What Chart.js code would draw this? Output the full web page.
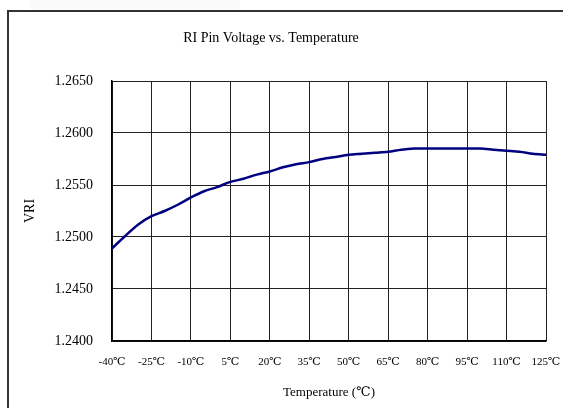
<!DOCTYPE html>
<html>
<head>
<meta charset="utf-8">
<script src="https://cdn.jsdelivr.net/npm/chart.js@4/dist/chart.umd.min.js"></script>
<style>
    html, body { margin: 0; padding: 0; background: #fff; }
    #wrap { width: 563px; height: 408px; position: relative; }
</style>
</head>
<body>
<div id="wrap"><canvas id="vriChart"></canvas></div>
<script>
// Temperature points (℃) and measured VRI (V)
const temps = [-40, -35, -30, -25, -20, -15, -10, -5, 0, 5, 10, 15, 20, 25, 30, 35, 40,
               45, 50, 55, 60, 65, 70, 75, 80, 85, 90, 95, 100, 105, 110, 115, 120, 125];
const vri = [1.2489, 1.2501, 1.2512, 1.2520, 1.2525, 1.2531, 1.2538, 1.2544, 1.2548, 1.2553,
             1.2556, 1.2560, 1.2563, 1.2567, 1.2570, 1.2572, 1.2575, 1.2577, 1.2579, 1.2580,
             1.2581, 1.2582, 1.2584, 1.2585, 1.2585, 1.2585, 1.2585, 1.2585, 1.2585, 1.2584,
             1.2583, 1.2582, 1.2580, 1.2579];
const xTicks = [-40, -25, -10, 5, 20, 35, 50, 65, 80, 95, 110, 125];
const yTicks = [1.2400, 1.2450, 1.2500, 1.2550, 1.2600, 1.2650];

const serif = '"Liberation Serif", "DejaVu Serif", serif';

// Outer frame and title drawn around the chart
const framePlugin = {
    id: 'frame',
    beforeDraw(chart) {
        const ctx = chart.ctx;
        ctx.save();
        ctx.fillStyle = '#fafafa';
        ctx.fillRect(30, 0, 210, 9);
        ctx.strokeStyle = '#333';
        ctx.lineWidth = 2;
        ctx.beginPath();
        ctx.moveTo(8, 420);
        ctx.lineTo(8, 11);
        ctx.lineTo(570, 11);
        ctx.stroke();
        ctx.fillStyle = '#000';
        ctx.font = '14px ' + serif;
        ctx.textAlign = 'center';
        ctx.textBaseline = 'middle';
        ctx.fillText('RI Pin Voltage vs. Temperature', 271, 38);
        ctx.restore();
    }
};

const ctx = document.getElementById('vriChart').getContext('2d');
new Chart(ctx, {
    type: 'line',
    data: {
        datasets: [{
            data: temps.map((t, i) => ({ x: t, y: vri[i] })),
            borderColor: '#000080',
            borderWidth: 2.5,
            pointRadius: 0,
            tension: 0.3,
            fill: false
        }]
    },
    options: {
        responsive: true,
        maintainAspectRatio: false,
        animation: false,
        layout: { padding: { top: 81, right: 17, left: 0, bottom: 0 } },
        plugins: {
            legend: { display: false },
            tooltip: { enabled: false }
        },
        scales: {
            x: {
                type: 'linear',
                min: -40,
                max: 125,
                afterFit: s => { s.height = 67; s.paddingLeft = 0; s.paddingRight = 0; },
                afterBuildTicks: s => { s.ticks = xTicks.map(v => ({ value: v })); },
                grid: { color: '#222', lineWidth: 1, tickLength: 0, drawTicks: false },
                border: { color: '#000', width: 1.5 },
                ticks: {
                    color: '#000',
                    font: { family: serif, size: 11 },
                    padding: 15,
                    maxRotation: 0,
                    callback: v => v + '℃'
                },
                title: {
                    display: true,
                    text: 'Temperature (℃)',
                    color: '#000',
                    font: { family: serif, size: 13 },
                    padding: { top: 0, bottom: 8 }
                }
            },
            y: {
                min: 1.24,
                max: 1.265,
                afterFit: s => { s.width = 112; s.paddingTop = 0; s.paddingBottom = 0; },
                afterBuildTicks: s => { s.ticks = yTicks.map(v => ({ value: v })); },
                grid: { color: '#222', lineWidth: 1, tickLength: 0, drawTicks: false },
                border: { color: '#000', width: 1.5 },
                ticks: {
                    color: '#000',
                    font: { family: serif, size: 14 },
                    padding: 19,
                    callback: v => v.toFixed(4)
                },
                title: {
                    display: true,
                    text: 'VRI',
                    color: '#000',
                    font: { family: serif, size: 14 },
                    padding: { top: 22, bottom: 0 }
                }
            }
        }
    },
    plugins: [framePlugin]
});
</script>
</body>
</html>
